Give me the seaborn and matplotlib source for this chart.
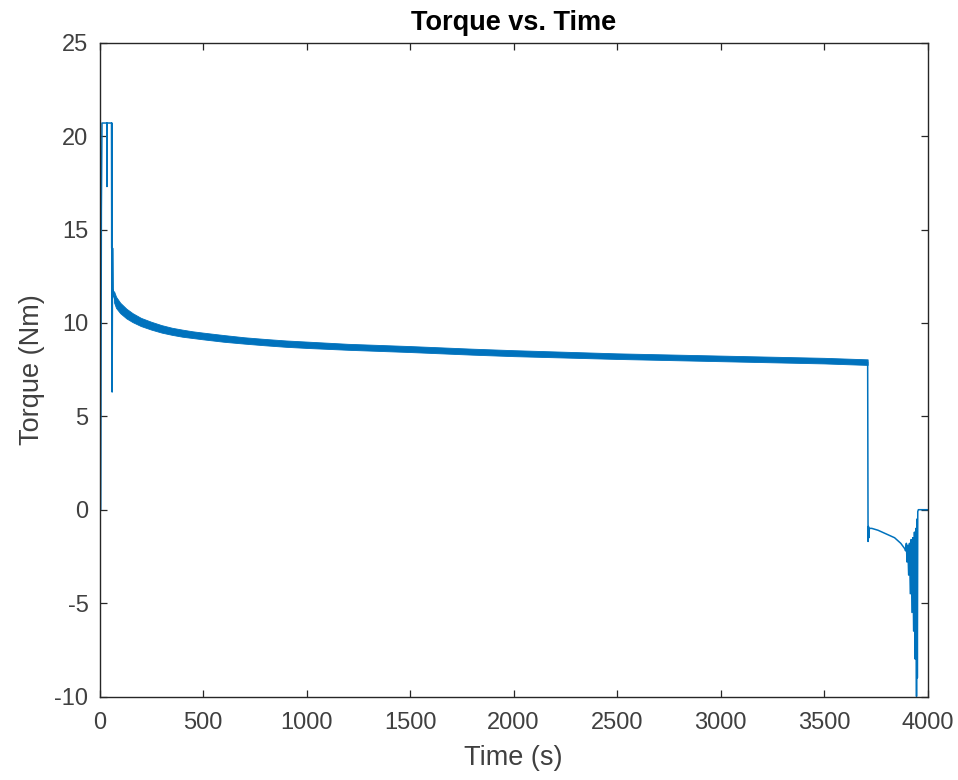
import matplotlib
matplotlib.use("Agg")
import matplotlib.pyplot as plt
import seaborn as sns
import numpy as np
import pandas as pd

# ---- data ----
start_time = [0, 6, 9, 12, 35, 36, 37, 58, 59, 60, 61, 63, 65, 70]
start_torque = [0.0, 0.0, 16.0, 20.7, 20.7, 17.3, 20.7, 20.7, 14.0, 20.7, 6.3, 14.0, 11.8, 11.4]

band_time = [70, 80, 100, 130, 160, 200, 250, 300, 350, 400, 450, 500, 600, 700, 800, 900,
             1000, 1200, 1500, 1800, 2000, 2500, 3000, 3500, 3710]
band_torque = [11.4, 11.1, 10.8, 10.5, 10.28, 10.05, 9.85, 9.68, 9.55, 9.45, 9.37, 9.3, 9.17,
               9.06, 8.97, 8.89, 8.83, 8.72, 8.6, 8.46, 8.38, 8.22, 8.1, 7.98, 7.9]
band_halfwidth = [0.3, 0.3, 0.28, 0.26, 0.24, 0.22, 0.21, 0.2, 0.19, 0.19, 0.18, 0.18, 0.18,
                  0.17, 0.17, 0.17, 0.17, 0.16, 0.16, 0.16, 0.16, 0.15, 0.15, 0.15, 0.15]

end_time = [3710, 3712, 3714, 3716, 3718, 3730, 3760, 3800, 3840, 3870, 3890,
            3893, 3897, 3900, 3904, 3908, 3912, 3916, 3920, 3924, 3928, 3932,
            3936, 3940, 3943, 3946, 3948, 3950, 3952, 3955, 4000]
end_torque = [7.9, -1.7, -0.9, -1.5, -1.0, -1.0, -1.1, -1.3, -1.5, -1.8, -2.1,
              -2.2, -1.8, -2.8, -1.9, -3.5, -1.8, -4.5, -1.6, -5.5, -1.5, -6.5,
              -1.2, -8.0, -1.0, -10.0, -0.5, -9.0, -0.1, 0.0, 0.0]

x_ticks = [0, 500, 1000, 1500, 2000, 2500, 3000, 3500, 4000]
y_ticks = [-10, -5, 0, 5, 10, 15, 20, 25]

title_text = "Torque vs. Time"
x_label = "Time (s)"
y_label = "Torque (Nm)"

# ---- build table ----
trace = pd.DataFrame({
    "time": start_time + band_time[1:] + end_time[1:],
    "torque": start_torque + band_torque[1:] + end_torque[1:],
})
band_c = np.array(band_torque)
band_h = np.array(band_halfwidth)

sns.set_theme(style="white")
plt.rcParams["font.family"] = ["Liberation Sans", "DejaVu Sans"]

line_color = "#0072BD"
axis_color = "#262626"
text_color = "#404040"

fig = plt.figure(figsize=(9.58, 7.80), dpi=100)
ax = fig.add_axes([99.5 / 958, 1 - 696.5 / 780, (927.7 - 99.5) / 958, (696.5 - 42.7) / 780])

ax.fill_between(band_time, band_c - band_h, band_c + band_h, color=line_color, linewidth=0.6)
sns.lineplot(data=trace, x="time", y="torque", ax=ax, color=line_color,
             linewidth=1.1, estimator=None, sort=False)

ax.set_xlim(0, 4000)
ax.set_ylim(-10, 25)
ax.set_xticks(x_ticks)
ax.set_yticks(y_ticks)
ax.set_xticklabels([str(v) for v in x_ticks])
ax.set_yticklabels([str(v) for v in y_ticks])

for s in ax.spines.values():
    s.set_visible(True)
    s.set_color(axis_color)
    s.set_linewidth(1.0)

ax.tick_params(axis="both", which="both", direction="in", length=5, width=0.9,
               colors=axis_color, labelsize=17, top=True, right=True,
               bottom=True, left=True)
ax.tick_params(axis="x", pad=11)
ax.tick_params(axis="y", pad=8)
for lab in ax.get_xticklabels() + ax.get_yticklabels():
    lab.set_color(text_color)

ax.set_xlabel(x_label, fontsize=19.5, color=text_color, labelpad=8)
ax.set_ylabel(y_label, fontsize=19.5, color=text_color, labelpad=7)
ax.set_title(title_text, fontsize=19.5, fontweight="bold", color="black", pad=9)

fig.savefig("out.png", dpi=100, facecolor="white")
